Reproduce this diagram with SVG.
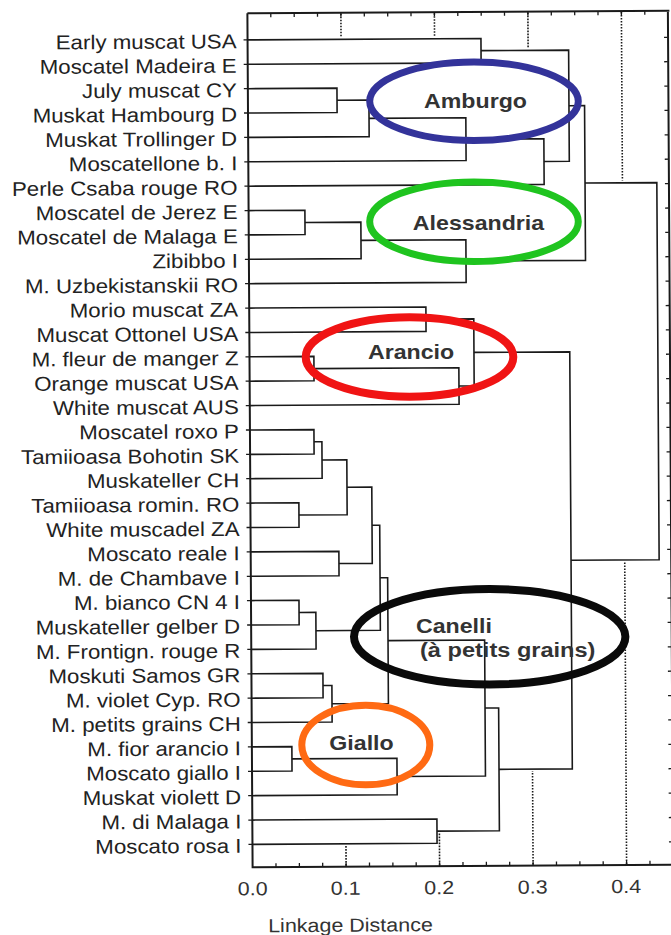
<svg xmlns="http://www.w3.org/2000/svg" width="671" height="935" viewBox="0 0 671 935">
<style>
.lbl{font-family:"Liberation Sans",Arial,sans-serif;font-size:20px;fill:#222;text-anchor:end}
.ax{font-family:"Liberation Sans",Arial,sans-serif;font-size:19px;fill:#333;text-anchor:middle}
.cl{font-family:"Liberation Sans",Arial,sans-serif;font-size:20.5px;font-weight:bold;fill:#333}
.tree{fill:none;stroke:#1a1a1a;stroke-width:1.6}
.frame{fill:none;stroke:#1a1a1a;stroke-width:2}
.grid{fill:none;stroke:#1a1a1a;stroke-width:1.6;stroke-dasharray:1.6 1.4}
.tick{fill:none;stroke:#1a1a1a;stroke-width:1.3}
.ell{fill:none}
</style>
<rect width="671" height="935" fill="#fff"/>
<g id="chart" transform="rotate(-0.35 460 440)">
<g id="axes">
<path class="frame" d="M250 12H672M250 12V866H672M670.5 12V866"/>
<path class="tick" d="M273.4 12v4M296.8 12v4M320.1 12v4M343.5 12v4M366.9 12v4M390.3 12v4M413.6 12v4M437 12v4M460.4 12v4M483.8 12v4M507.1 12v4M530.5 12v4M553.9 12v4M577.3 12v4M600.6 12v4M624 12v4M647.4 12v4M273.4 866v-4M296.8 866v-4M320.1 866v-4M343.5 866v-4M366.9 866v-4M390.3 866v-4M413.6 866v-4M437 866v-4M460.4 866v-4M483.8 866v-4M507.1 866v-4M530.5 866v-4M553.9 866v-4M577.3 866v-4M600.6 866v-4M624 866v-4M647.4 866v-4"/>
<path class="tick" d="M246 38.6H250M246 63H250M246 87.4H250M246 111.7H250M246 136.1H250M246 160.5H250M246 184.9H250M246 209.3H250M246 233.6H250M246 258H250M246 282.4H250M246 306.8H250M246 331.2H250M246 355.5H250M246 379.9H250M246 404.3H250M246 428.7H250M246 453.1H250M246 477.4H250M246 501.8H250M246 526.2H250M246 550.6H250M246 575H250M246 599.3H250M246 623.7H250M246 648.1H250M246 672.5H250M246 696.9H250M246 721.2H250M246 745.6H250M246 770H250M246 794.4H250M246 818.8H250M246 843.1H250"/>
<path class="tick" d="M666.5 38.6H670M666.5 63H670M666.5 87.4H670M666.5 111.7H670M666.5 136.1H670M666.5 160.5H670M666.5 184.9H670M666.5 209.3H670M666.5 233.6H670M666.5 258H670M666.5 282.4H670M666.5 306.8H670M666.5 331.2H670M666.5 355.5H670M666.5 379.9H670M666.5 404.3H670M666.5 428.7H670M666.5 453.1H670M666.5 477.4H670M666.5 501.8H670M666.5 526.2H670M666.5 550.6H670M666.5 575H670M666.5 599.3H670M666.5 623.7H670M666.5 648.1H670M666.5 672.5H670M666.5 696.9H670M666.5 721.2H670M666.5 745.6H670M666.5 770H670M666.5 794.4H670M666.5 818.8H670M666.5 843.1H670"/>
<path class="grid" d="M343.5 13V36M437 13V36.5M530.5 13V48.5M624 13V181.5M343.5 865V845M437 865V833M530.5 865V771.5M624 865V563"/>
<text class="ax" transform="translate(250 894) scale(1.13 1)">0.0</text>
<text class="ax" transform="translate(343 894) scale(1.13 1)">0.1</text>
<text class="ax" transform="translate(436.5 894) scale(1.13 1)">0.2</text>
<text class="ax" transform="translate(530 894) scale(1.13 1)">0.3</text>
<text class="ax" transform="translate(623.5 894) scale(1.13 1)">0.4</text>
<text class="ax" transform="translate(347.5 931) scale(1.13 1)">Linkage Distance</text>
</g>
<g id="leaves">
<g id="leaf00"><text class="lbl" transform="translate(239 46.9) scale(1.115 1)">Early muscat USA</text></g>
<g id="leaf01"><text class="lbl" transform="translate(239 71.3) scale(1.115 1)">Moscatel Madeira E</text></g>
<g id="leaf02"><text class="lbl" transform="translate(239 95.7) scale(1.115 1)">July muscat CY</text></g>
<g id="leaf03"><text class="lbl" transform="translate(239 120) scale(1.115 1)">Muskat Hambourg D</text></g>
<g id="leaf04"><text class="lbl" transform="translate(239 144.4) scale(1.115 1)">Muskat Trollinger D</text></g>
<g id="leaf05"><text class="lbl" transform="translate(239 168.8) scale(1.115 1)">Moscatellone b. I</text></g>
<g id="leaf06"><text class="lbl" transform="translate(239 193.2) scale(1.115 1)">Perle Csaba rouge RO</text></g>
<g id="leaf07"><text class="lbl" transform="translate(239 217.6) scale(1.115 1)">Moscatel de Jerez E</text></g>
<g id="leaf08"><text class="lbl" transform="translate(239 241.9) scale(1.115 1)">Moscatel de Malaga E</text></g>
<g id="leaf09"><text class="lbl" transform="translate(239 266.3) scale(1.115 1)">Zibibbo I</text></g>
<g id="leaf10"><text class="lbl" transform="translate(239 290.7) scale(1.115 1)">M. Uzbekistanskii RO</text></g>
<g id="leaf11"><text class="lbl" transform="translate(239 315.1) scale(1.115 1)">Morio muscat ZA</text></g>
<g id="leaf12"><text class="lbl" transform="translate(239 339.5) scale(1.115 1)">Muscat Ottonel USA</text></g>
<g id="leaf13"><text class="lbl" transform="translate(239 363.8) scale(1.115 1)">M. fleur de manger Z</text></g>
<g id="leaf14"><text class="lbl" transform="translate(239 388.2) scale(1.115 1)">Orange muscat USA</text></g>
<g id="leaf15"><text class="lbl" transform="translate(239 412.6) scale(1.115 1)">White muscat AUS</text></g>
<g id="leaf16"><text class="lbl" transform="translate(239 437) scale(1.115 1)">Moscatel roxo P</text></g>
<g id="leaf17"><text class="lbl" transform="translate(239 461.4) scale(1.115 1)">Tamiioasa Bohotin SK</text></g>
<g id="leaf18"><text class="lbl" transform="translate(239 485.7) scale(1.115 1)">Muskateller CH</text></g>
<g id="leaf19"><text class="lbl" transform="translate(239 510.1) scale(1.115 1)">Tamiioasa romin. RO</text></g>
<g id="leaf20"><text class="lbl" transform="translate(239 534.5) scale(1.115 1)">White muscadel ZA</text></g>
<g id="leaf21"><text class="lbl" transform="translate(239 558.9) scale(1.115 1)">Moscato reale I</text></g>
<g id="leaf22"><text class="lbl" transform="translate(239 583.3) scale(1.115 1)">M. de Chambave I</text></g>
<g id="leaf23"><text class="lbl" transform="translate(239 607.6) scale(1.115 1)">M. bianco CN 4 I</text></g>
<g id="leaf24"><text class="lbl" transform="translate(239 632) scale(1.115 1)">Muskateller gelber D</text></g>
<g id="leaf25"><text class="lbl" transform="translate(239 656.4) scale(1.115 1)">M. Frontign. rouge R</text></g>
<g id="leaf26"><text class="lbl" transform="translate(239 680.8) scale(1.115 1)">Moskuti Samos GR</text></g>
<g id="leaf27"><text class="lbl" transform="translate(239 705.2) scale(1.115 1)">M. violet Cyp. RO</text></g>
<g id="leaf28"><text class="lbl" transform="translate(239 729.5) scale(1.115 1)">M. petits grains CH</text></g>
<g id="leaf29"><text class="lbl" transform="translate(239 753.9) scale(1.115 1)">M. fior arancio I</text></g>
<g id="leaf30"><text class="lbl" transform="translate(239 778.3) scale(1.115 1)">Moscato giallo I</text></g>
<g id="leaf31"><text class="lbl" transform="translate(239 802.7) scale(1.115 1)">Muskat violett D</text></g>
<g id="leaf32"><text class="lbl" transform="translate(239 827.1) scale(1.115 1)">M. di Malaga I</text></g>
<g id="leaf33"><text class="lbl" transform="translate(239 851.4) scale(1.115 1)">Moscato rosa I</text></g>
</g>
<g id="connectors" class="tree">
<path d="M250 38.6H483.4V63H250"/>
<path d="M250 87.4H339.1V111.7H250"/>
<path d="M339.1 99.5H371V136.1H250"/>
<path d="M371 117.8H467.8V160.5H250"/>
<path d="M467.8 139.2H545.7V184.9H250"/>
<path d="M483.4 50.8H571V162H545.7"/>
<path d="M250 209.3H306.3V233.6H250"/>
<path d="M306.3 221.5H362.2V258H250"/>
<path d="M362.2 239.8H467.1V282.4H250"/>
<path d="M571 106.4H586.6V261.1H467.1"/>
<path d="M250 306.8H426.7V331.2H250"/>
<path d="M250 355.5H314.4V379.9H250"/>
<path d="M314.4 367.7H459.3V404.3H250"/>
<path d="M426.7 319H474.5V386H459.3"/>
<path d="M250 428.7H314V453.1H250"/>
<path d="M314 440.9H321.9V477.4H250"/>
<path d="M250 501.8H298.5V526.2H250"/>
<path d="M321.9 459.2H346.7V514H298.5"/>
<path d="M250 550.6H338.2V575H250"/>
<path d="M346.7 486.6H371.5V562.8H338.2"/>
<path d="M250 599.3H298V623.7H250"/>
<path d="M298 611.5H314.8V648.1H250"/>
<path d="M371.5 524.7H379.2V629.8H314.8"/>
<path d="M250 672.5H321.5V696.9H250"/>
<path d="M321.5 684.7H330.4V721.2H250"/>
<path d="M379.2 577.3H386.8V703H330.4"/>
<path d="M250 745.6H290V770H250"/>
<path d="M290 757.8H395V794.4H250"/>
<path d="M386.8 640.2H483.4V776.1H395"/>
<path d="M250 818.8H434.6V843.1H250"/>
<path d="M483.4 708.2H497V831H434.6"/>
<path d="M474.5 352.5H570.3V769.6H497"/>
<path d="M586.6 183.8H658.4V561H570.3"/>
</g>
</g>
<g id="cluster-amburgo">
<text class="cl" text-anchor="middle" transform="translate(475.5 108) scale(1.13 1)">Amburgo</text>
<ellipse class="ell" cx="474" cy="101.2" rx="104.3" ry="39.3" stroke="#33339a" stroke-width="7"/>
</g>
<g id="cluster-alessandria">
<text class="cl" text-anchor="middle" transform="translate(478.5 230) scale(1.13 1)">Alessandria</text>
<ellipse class="ell" cx="474" cy="221.7" rx="104.3" ry="39.8" stroke="#1fc41f" stroke-width="7"/>
</g>
<g id="cluster-arancio">
<text class="cl" text-anchor="middle" transform="translate(411 359) scale(1.13 1)">Arancio</text>
<ellipse class="ell" cx="409.5" cy="357" rx="103.8" ry="39.7" stroke="#f01414" stroke-width="8"/>
</g>
<g id="cluster-canelli">
<text class="cl" transform="translate(416 633) scale(1.13 1)">Canelli</text>
<text class="cl" transform="translate(420 657) scale(1.15 1)">(à petits grains)</text>
<ellipse class="ell" cx="489.7" cy="636.7" rx="135.7" ry="47.7" stroke="#0a0a0a" stroke-width="8"/>
</g>
<g id="cluster-giallo">
<text class="cl" text-anchor="middle" transform="translate(361.5 750) scale(1.13 1)">Giallo</text>
<ellipse class="ell" cx="365.8" cy="745" rx="64" ry="39.8" stroke="#ff6a13" stroke-width="7"/>
</g>
</svg>
